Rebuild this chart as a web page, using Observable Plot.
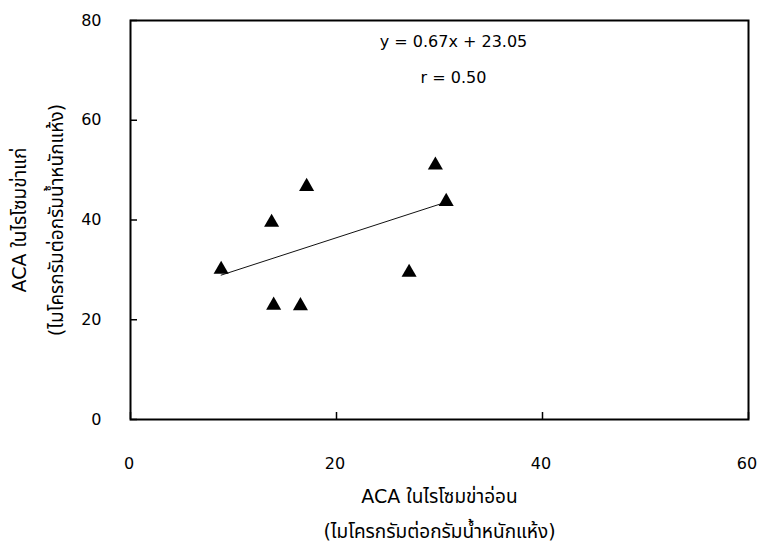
<!DOCTYPE html>
<html>
<head>
<meta charset="utf-8">
<script src="https://cdn.jsdelivr.net/npm/d3@7"></script>
<script src="https://cdn.jsdelivr.net/npm/@observablehq/plot@0.6"></script>
<style>
  html, body { margin: 0; padding: 0; background: #fff; }
  #chart svg { display: block; }
</style>
</head>
<body>
<div id="chart"></div>
<script>
// ACA in young galangal rhizome (x) vs ACA in mature galangal rhizome (y), µg/g dry weight
const acaYoung = [8.8, 13.7, 17.1, 29.6, 30.65, 27.05, 13.9, 16.5];
const acaOld   = [30.1, 39.5, 46.7, 51.0, 43.7, 29.5, 22.9, 22.8];

// Trendline from the chart annotation
const slope = 0.67;
const intercept = 23.05;
const equationLabels = ["y = 0.67x + 23.05", "r = 0.50"];

const xTicks = [0, 20, 40, 60];
const yTicks = [0, 20, 40, 60, 80];
const xTitleLines = ["ACA ในไรโซมข่าอ่อน", "(ไมโครกรัมต่อกรัมน้ำหนักแห้ง)"];
const yTitleLines = ["ACA ในไรโซมข่าแก่", "(ไมโครกรัมต่อกรัมน้ำหนักแห้ง)"];

const points = acaYoung.map((x, i) => ({x, y: acaOld[i]}));
const xExt = d3.extent(acaYoung);
const trend = xExt.map(x => ({x, y: slope * x + intercept}));

const titleSize = 19;

const chart = Plot.plot({
  width: 757,
  height: 545,
  marginLeft: 130,
  marginRight: 9,
  marginTop: 20,
  marginBottom: 126,
  style: {
    fontFamily: "'DejaVu Sans', 'Noto Sans Thai', Tahoma, Loma, Garuda, 'Noto Sans', sans-serif",
    fontSize: "16px",
    color: "#000",
    background: "#fff"
  },
  x: {domain: [0, 60]},
  y: {domain: [0, 80]},
  marks: [
    Plot.frame({stroke: "#000", strokeWidth: 2}),
    // inward tick marks only
    Plot.axisX({ticks: xTicks, tickSize: -7, label: null, strokeWidth: 1.5, tickFormat: () => ""}),
    // tick labels only
    Plot.axisX({ticks: xTicks, tickSize: 0, tickPadding: 38, label: null, dx: -1.5, tickFormat: d => String(d)}),
    Plot.axisY({ticks: yTicks, tickSize: -7, tickPadding: 36, label: null, strokeWidth: 1.5, tickFormat: d => String(d)}),
    Plot.line(trend, {x: "x", y: "y", stroke: "#111", strokeWidth: 1}),
    Plot.dot(points, {x: "x", y: "y", symbol: "triangle", r: 5.6, fill: "#000", stroke: "none"}),
    Plot.text([equationLabels[0]], {text: d => d, frameAnchor: "top", dx: 14, dy: 21, lineAnchor: "middle", fill: "#000"}),
    Plot.text([equationLabels[1]], {text: d => d, frameAnchor: "top", dx: 14, dy: 57, lineAnchor: "middle", fill: "#000"}),
    Plot.text([xTitleLines[0]], {text: d => d, frameAnchor: "bottom", dy: 77, lineAnchor: "middle", textAnchor: "middle", fontSize: titleSize, fill: "#000"}),
    Plot.text([xTitleLines[1]], {text: d => d, frameAnchor: "bottom", dy: 112, lineAnchor: "middle", textAnchor: "middle", fontSize: titleSize, fill: "#000"}),
    Plot.text([yTitleLines[0]], {text: d => d, frameAnchor: "left", dx: -111, rotate: -90, lineAnchor: "middle", textAnchor: "middle", fontSize: titleSize, fill: "#000"}),
    Plot.text([yTitleLines[1]], {text: d => d, frameAnchor: "left", dx: -74, rotate: -90, lineAnchor: "middle", textAnchor: "middle", fontSize: titleSize, fill: "#000"})
  ]
});
document.getElementById("chart").appendChild(chart);
</script>
</body>
</html>
